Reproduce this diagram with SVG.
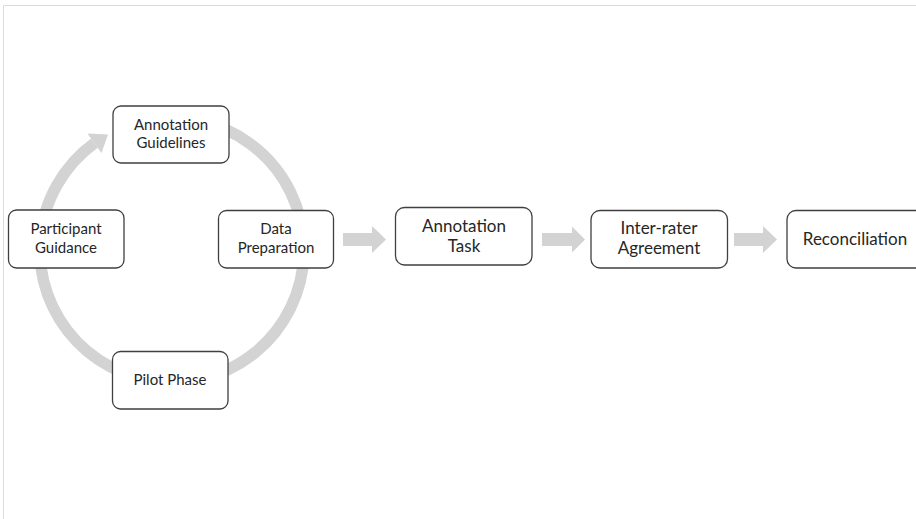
<svg xmlns="http://www.w3.org/2000/svg" width="916" height="519" viewBox="0 0 916 519">
  <style>
    .box { fill: #ffffff; stroke: #3f3f3f; stroke-width: 1.3; }
    .sm { font-family: Lato, "Liberation Sans", sans-serif; font-size: 15px; fill: #262626; text-anchor: middle; }
    .lg { font-family: Lato, "Liberation Sans", sans-serif; font-size: 17px; fill: #262626; text-anchor: middle; }
    .ring { fill: none; stroke: #d3d3d3; stroke-width: 11.5; }
    .blk { fill: #d3d3d3; }
    .frame { stroke: #dcdcdc; stroke-width: 1; fill: none; }
  </style>
  <rect x="0" y="0" width="916" height="519" fill="#ffffff"/>
  <path class="frame" d="M3.5 519 V5.5 H916"/>

  <g id="connectors">
    <path class="ring" d="M199.4 120.9 A132 132 0 1 1 94.4 143.2"/>
    <polygon class="blk" points="87.4,133.5 108,134.6 101.5,152.9"/>
    <polygon class="blk" points="343,233 372,233 372,226 386,239.5 372,253 372,246 343,246"/>
    <polygon class="blk" points="542,233 572,233 572,226.5 585,239.5 572,252.5 572,246 542,246"/>
    <polygon class="blk" points="734,233 763,233 763,226 777,239.5 763,253 763,246 734,246"/>
  </g>

  <g id="annotation-guidelines">
    <rect class="box" x="113" y="106" width="116" height="57" rx="8"/>
    <text class="sm" x="171" y="129.5">Annotation</text>
    <text class="sm" x="171" y="148">Guidelines</text>
  </g>
  <g id="participant-guidance">
    <rect class="box" x="8.5" y="210" width="115.5" height="58" rx="8"/>
    <text class="sm" x="66" y="234">Participant</text>
    <text class="sm" x="66" y="252.5">Guidance</text>
  </g>
  <g id="data-preparation">
    <rect class="box" x="218.5" y="210.5" width="115" height="57.5" rx="8"/>
    <text class="sm" x="276" y="234">Data</text>
    <text class="sm" x="276" y="253">Preparation</text>
  </g>
  <g id="pilot-phase">
    <rect class="box" x="112.5" y="351.5" width="115.5" height="57.5" rx="8"/>
    <text class="sm" x="170" y="385">Pilot Phase</text>
  </g>
  <g id="annotation-task">
    <rect class="box" x="395.5" y="207.5" width="136.5" height="57.5" rx="9"/>
    <text class="lg" x="464" y="231.5">Annotation</text>
    <text class="lg" x="464" y="251.5">Task</text>
  </g>
  <g id="inter-rater-agreement">
    <rect class="box" x="591" y="210.5" width="136.5" height="57.5" rx="9"/>
    <text class="lg" x="659" y="234.3">Inter-rater</text>
    <text class="lg" x="659" y="254.3">Agreement</text>
  </g>
  <g id="reconciliation">
    <rect class="box" x="787" y="210.5" width="140" height="57.5" rx="9"/>
    <text class="lg" x="855" y="245">Reconciliation</text>
  </g>
</svg>
